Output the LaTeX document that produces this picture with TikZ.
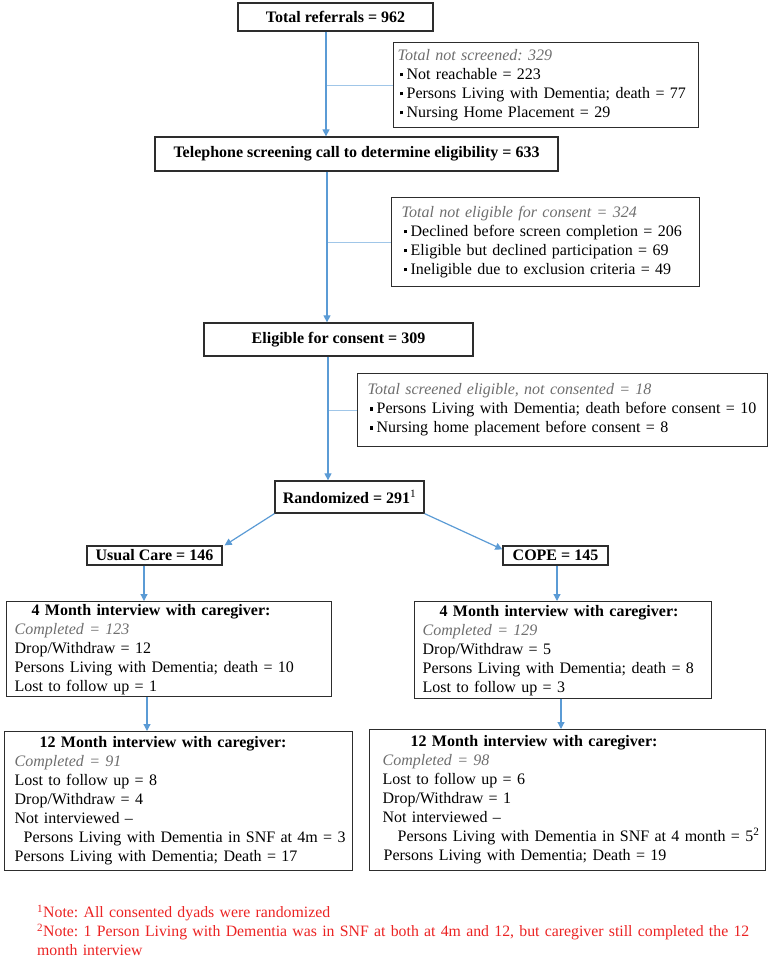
\documentclass[tikz,border=0pt]{standalone}
\usepackage{fontspec}
\setmainfont{Liberation Serif}
\usetikzlibrary{arrows.meta,calc}
\frenchspacing
\definecolor{arrblue}{RGB}{91,155,213}
\definecolor{brblue}{RGB}{160,198,232}
\definecolor{boxline}{RGB}{45,45,45}
\definecolor{itgray}{RGB}{110,110,110}
\definecolor{notered}{RGB}{235,35,35}
\newcommand{\bfs}{\fontsize{16}{19}\selectfont}
\newcommand{\bul}{\hspace*{2pt}\raisebox{3.2pt}{\rule{3.6pt}{3.6pt}}\hspace*{3.4pt}}
\newcommand{\itg}[1]{{\color{itgray}\itshape #1}}
\tikzset{
  bx/.style={draw=boxline, line width=1.3pt, inner ysep=0pt, font=\bfs},
  ttl/.style={bx, inner xsep=0pt, font=\bfs\bfseries, align=center},
  lst/.style={bx, anchor=north west, align=left},
  arr/.style={draw=arrblue, line width=1.2pt, -{Triangle[length=7pt,width=7pt]}},
  brl/.style={draw=brblue, line width=1.2pt},
}
\begin{document}
\begin{tikzpicture}[x=1pt,y=-1pt]
\useasboundingbox (0,0) rectangle (776,959);
% main column
\node[ttl, minimum width=195pt, minimum height=28pt] (ref) at (335.5,17) {Total referrals = 962};
\node[lst, minimum width=305pt, minimum height=85pt, inner xsep=4pt, text width=297pt] (notscr) at (393,42)
  {\itg{Total not screened: 329}\\
   \bul Not reachable = 223\\
   \bul Persons Living with Dementia; death = 77\\
   \bul Nursing Home Placement = 29};
\node[ttl, minimum width=403pt, minimum height=34pt] (phone) at (356.5,154) {Telephone screening call to determine eligibility = 633};
\node[lst, minimum width=308pt, minimum height=89pt, inner xsep=10pt, text width=288pt] (notelig) at (391,197)
  {\itg{Total not eligible for consent = 324}\\
   \bul Declined before screen completion = 206\\
   \bul Eligible but declined participation = 69\\
   \bul Ineligible due to exclusion criteria = 49};
\node[ttl, minimum width=269pt, minimum height=33pt] (elig) at (338.5,339.5) {Eligible for consent = 309};
\node[lst, minimum width=410pt, minimum height=73pt, inner xsep=10pt, text width=390pt] (screened) at (357,373)
  {\itg{Total screened eligible, not consented = 18}\\
   \mbox{\bul Persons Living with Dementia; death before consent = 10}\\
   \bul Nursing home placement before consent = 8};
\node[ttl, minimum width=149pt, minimum height=32pt] (rand) at (349.5,497) {Randomized = 291{\mdseries\textsuperscript{1}}};
\node[ttl, minimum width=135pt, minimum height=19pt] (usual) at (154.5,555.5) {Usual Care = 146};
\node[ttl, minimum width=105pt, minimum height=19pt] (cope) at (555.5,555.5) {COPE = 145};
% left arm
\node[lst, minimum width=325pt, minimum height=95pt, inner xsep=8pt, text width=309pt] (m4L) at (6,601)
  {\hspace*{17pt}\textbf{4 Month interview with caregiver:}\\
   \itg{Completed = 123}\\
   Drop/Withdraw = 12\\
   Persons Living with Dementia; death = 10\\
   Lost to follow up = 1};
\node[lst, minimum width=348pt, minimum height=139pt, inner xsep=10pt, text width=328pt] (m12L) at (4,731)
  {\hspace*{25pt}\textbf{12 Month interview with caregiver:}\\
   \itg{Completed = 91}\\
   Lost to follow up = 8\\
   Drop/Withdraw = 4\\
   Not interviewed --\\
   \mbox{\hspace*{9pt}Persons Living with Dementia in SNF at 4m = 3}\\
   Persons Living with Dementia; Death = 17};
% right arm
\node[lst, minimum width=297pt, minimum height=97pt, inner xsep=8pt, text width=281pt] (m4R) at (414,601)
  {\hspace*{17pt}\textbf{4 Month interview with caregiver:}\\
   \itg{Completed = 129}\\
   Drop/Withdraw = 5\\
   Persons Living with Dementia; death = 8\\
   Lost to follow up = 3};
\node[lst, minimum width=396pt, minimum height=141pt, inner xsep=13pt, text width=370pt] (m12R) at (369,729)
  {\hspace*{28pt}\textbf{12 Month interview with caregiver:}\\
   \itg{Completed = 98}\\
   Lost to follow up = 6\\
   Drop/Withdraw = 1\\
   Not interviewed --\\
   \mbox{\hspace*{15pt}Persons Living with Dementia in SNF at 4 month = 5\textsuperscript{2}}\\
   \hspace*{1pt}Persons Living with Dementia; Death = 19};
% notes
\node[anchor=north west, inner sep=0pt, align=left, text width=735pt, font=\fontsize{15.8}{19}\selectfont, text=notered] (notes) at (37,905)
  {\textsuperscript{1}Note: All consented dyads were randomized\\
   \mbox{\textsuperscript{2}Note: 1 Person Living with Dementia was in SNF at both at 4m and 12, but caregiver still completed the 12}\\
   month interview};
% connectors
\coordinate (a1) at (326,0);
\coordinate (a2) at (327,0);
\coordinate (a3) at (328,0);
\coordinate (a4) at (144,0);
\coordinate (a5) at (147,0);
\coordinate (a6) at (557,0);
\coordinate (a7) at (561,0);
\draw[brl] (a1 |- notscr.west) -- (notscr.west);
\draw[brl] (a2 |- notelig.west) -- (notelig.west);
\draw[brl] (a3 |- screened.west) -- (screened.west);
\draw[arr] (a1 |- ref.south) -- (a1 |- phone.north);
\draw[arr] (a2 |- phone.south) -- (a2 |- elig.north);
\draw[arr] (a3 |- elig.south) -- (a3 |- rand.north);
\draw[arr] (rand.south west) -- ([xshift=2pt]usual.north east);
\draw[arr] (rand.south east) -- ([yshift=-4pt]cope.north west);
\draw[arr] (a4 |- usual.south) -- (a4 |- m4L.north);
\draw[arr] (a5 |- m4L.south) -- (a5 |- m12L.north);
\draw[arr] (a6 |- cope.south) -- (a6 |- m4R.north);
\draw[arr] (a7 |- m4R.south) -- (a7 |- m12R.north);
\end{tikzpicture}
\end{document}
